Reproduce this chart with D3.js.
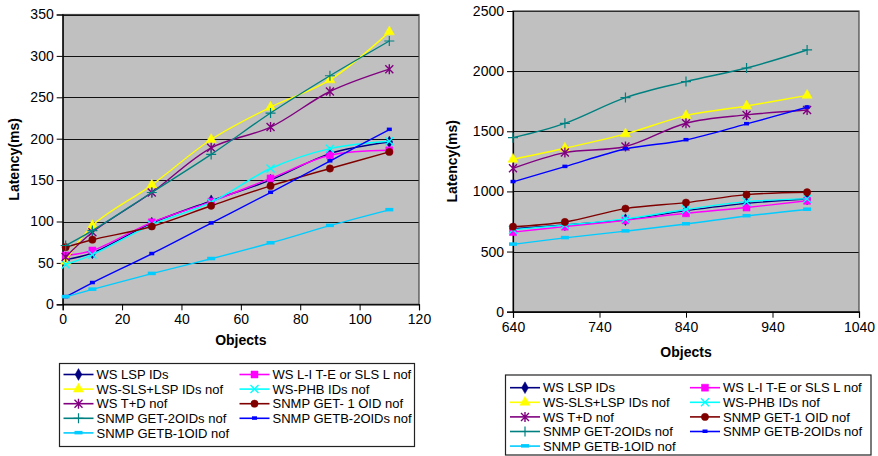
<!DOCTYPE html>
<html><head><meta charset="utf-8">
<script src="https://cdn.jsdelivr.net/npm/d3@7"></script>
<style>
body{margin:0;background:#fff;}
text{font-family:"Liberation Sans",Arial,sans-serif;fill:#000;}
</style></head>
<body><svg id="c" width="878" height="456"></svg>
<script>
// ---------- data ----------
const seriesNames = ["WS LSP IDs","WS L-I T-E or SLS L nof","WS-SLS+LSP IDs nof","WS-PHB IDs nof","WS T+D nof","SNMP GET-1 OID nof","SNMP GET-2OIDs nof","SNMP GETB-2OIDs nof","SNMP GETB-1OID nof"];
const seriesNamesLeft = ["WS LSP IDs","WS L-I T-E or SLS L nof","WS-SLS+LSP IDs nof","WS-PHB IDs nof","WS T+D nof","SNMP GET- 1 OID nof","SNMP GET-2OIDs nof","SNMP GETB-2OIDs nof","SNMP GETB-1OID nof"];
const seriesColors = ["#000080","#FF00FF","#FFFF00","#00FFFF","#800080","#800000","#008080","#0000FF","#00CCFF"];
const seriesMarkers = ["diamond","square","triangle","x","star","circle","plus","dashSmall","dash"];

const objectsLeft = [1,10,30,50,70,90,110];
const leftWsLsp  = [54, 62, 98, 125, 150, 182, 196];
const leftWsLite = [59, 65, 99, 124, 152, 180, 186];
const leftWsSls  = [52, 95, 144, 199, 238, 271, 329];
const leftWsPhb  = [48, 60, 96, 123, 164, 188, 197];
const leftWsTd   = [57, 87, 135, 189, 214, 257, 284];
const leftGet1   = [69, 78, 94, 119, 143, 164, 184];
const leftGet2   = [71, 89, 135, 181, 231, 276, 318];
const leftGetb2  = [9, 26, 61, 98, 135, 173, 211];
const leftGetb1  = [9, 18, 37, 55, 74, 95, 114];

const objectsRight = [640,700,770,840,910,980];
const rightWsLsp  = [690, 722, 765, 840, 901, 937];
const rightWsLite = [662, 707, 760, 818, 866, 922];
const rightWsSls  = [1267, 1359, 1478, 1630, 1710, 1799];
const rightWsPhb  = [682, 720, 772, 850, 915, 938];
const rightWsTd   = [1192, 1323, 1373, 1567, 1636, 1677];
const rightGet1   = [707, 746, 857, 907, 973, 993];
const rightGet2   = [1447, 1566, 1780, 1913, 2026, 2176];
const rightGetb2  = [1080, 1206, 1353, 1428, 1561, 1700];
const rightGetb1  = [560, 614, 670, 729, 796, 850];

const leftXTicks = [0,20,40,60,80,100,120];
const leftYTicks = [0,50,100,150,200,250,300,350];
const rightXTicks = [640,740,840,940,1040];
const rightYTicks = [0,500,1000,1500,2000,2500];

// ---------- drawing ----------
const svg = d3.select("#c");

function markerPath(type){
  switch(type){
    case "diamond": return d3.symbol(d3.symbolDiamond, 40)();
    case "square": return "M-3.5,-3.5H3.5V3.5H-3.5Z";
    case "triangle": return d3.symbol(d3.symbolTriangle, 45)();
    case "circle": return d3.symbol(d3.symbolCircle, 42)();
    default: return null;
  }
}
function drawMarker(g, type, color, x, y){
  const p = markerPath(type);
  if(p){
    g.append("path").attr("d",p).attr("transform",`translate(${x},${y})`)
      .attr("fill",color).attr("stroke",color).attr("stroke-width",0.5);
  } else if(type==="x"){
    g.append("path").attr("d","M-4,-4L4,4M-4,4L4,-4").attr("transform",`translate(${x},${y})`)
      .attr("stroke",color).attr("stroke-width",1.4).attr("fill","none");
  } else if(type==="star"){
    g.append("path").attr("d","M-4,-4L4,4M-4,4L4,-4M0,-5L0,5").attr("transform",`translate(${x},${y})`)
      .attr("stroke",color).attr("stroke-width",1.4).attr("fill","none");
  } else if(type==="plus"){
    g.append("path").attr("d","M-5,0L5,0M0,-5L0,5").attr("transform",`translate(${x},${y})`)
      .attr("stroke",color).attr("stroke-width",1.2).attr("fill","none");
  } else if(type==="dashSmall"){
    g.append("rect").attr("x",x-2.5).attr("y",y-2).attr("width",5).attr("height",3.5).attr("fill",color);
  } else if(type==="dash"){
    g.append("rect").attr("x",x-4).attr("y",y-2).attr("width",8).attr("height",3.5).attr("fill",color);
  }
}

function chart(cfg){
  const g = svg.append("g");
  const x = d3.scaleLinear().domain(cfg.xDomain).range([cfg.x0,cfg.x1]);
  const y = d3.scaleLinear().domain(cfg.yDomain).range([cfg.y0,cfg.y1]);
  g.append("rect").attr("x",cfg.x0).attr("y",cfg.y1).attr("width",cfg.x1-cfg.x0).attr("height",cfg.y0-cfg.y1)
    .attr("fill","#C0C0C0");
  // gridlines
  g.selectAll(".grid").data(cfg.yTicks).enter().append("line")
    .attr("x1",cfg.x0).attr("x2",cfg.x1).attr("y1",d=>Math.round(y(d))+0.5).attr("y2",d=>Math.round(y(d))+0.5)
    .attr("stroke","#111").attr("stroke-width",1);
  g.append("rect").attr("x",cfg.x0).attr("y",cfg.y1).attr("width",cfg.x1-cfg.x0).attr("height",cfg.y0-cfg.y1)
    .attr("fill","none").attr("stroke","#444").attr("stroke-width",1.2);
  // axes
  const ya = d3.axisLeft(y).tickValues(cfg.yTicks).tickSize(6).tickPadding(3).tickFormat(d3.format("d"));
  const yg = g.append("g").attr("transform",`translate(${cfg.x0},0)`).call(ya);
  const xa = d3.axisBottom(x).tickValues(cfg.xTicks).tickSize(6).tickPadding(4).tickFormat(d3.format("d"));
  const xg = g.append("g").attr("transform",`translate(0,${cfg.y0})`).call(xa);
  [yg,xg].forEach(a=>{
    a.select(".domain").attr("stroke","#000").attr("stroke-width",1.2);
    a.selectAll(".tick line").attr("stroke","#000");
    a.selectAll(".tick text").attr("font-size",14).attr("font-family","Liberation Sans, Arial, sans-serif").attr("fill","#000");
  });
  // titles
  g.append("text").attr("x",(cfg.x0+cfg.x1)/2).attr("y",cfg.xTitleY).attr("text-anchor","middle")
    .attr("font-size",14).attr("font-weight","bold").text("Objects");
  g.append("text").attr("transform",`translate(${cfg.yTitleX},${(cfg.y0+cfg.y1)/2}) rotate(-90)`)
    .attr("text-anchor","middle").attr("font-size",14).attr("font-weight","bold").text("Latency(ms)");
  // series
  const line = d3.line().x(d=>x(d[0])).y(d=>y(d[1])).curve(d3.curveCatmullRom.alpha(0.5));
  cfg.series.forEach((vals,i)=>{
    const pts = cfg.xs.map((xv,j)=>[xv,vals[j]]);
    g.append("path").attr("d",line(pts)).attr("fill","none").attr("stroke",seriesColors[i]).attr("stroke-width",1.4);
    pts.forEach(p=>drawMarker(g,seriesMarkers[i],seriesColors[i],x(p[0]),y(p[1])));
  });
  // legend
  const L = cfg.legend;
  g.append("rect").attr("x",L.x).attr("y",L.y).attr("width",L.w).attr("height",L.h)
    .attr("fill","#fff").attr("stroke","#222").attr("stroke-width",1.2);
  const order = [0,2,4,6,8,1,3,5,7];
  order.forEach((si,k)=>{
    const col = k<5?0:1, row = k<5?k:k-5;
    const lx = L.cols[col], ly = L.rowY + row*L.rowH;
    g.append("line").attr("x1",lx).attr("x2",lx+L.lineW).attr("y1",ly).attr("y2",ly)
      .attr("stroke",seriesColors[si]).attr("stroke-width",1.6);
    drawMarker(g,seriesMarkers[si],seriesColors[si],lx+L.lineW/2,ly);
    g.append("text").attr("x",lx+L.lineW+3).attr("y",ly).attr("dy","0.36em")
      .attr("font-size",13).text(cfg.names[si]);
  });
}

chart({
  xDomain:[0,120], yDomain:[0,350], x0:62.7, x1:419, y0:304.3, y1:14.5,
  xTicks:leftXTicks, yTicks:leftYTicks, xs:objectsLeft,
  series:[leftWsLsp,leftWsLite,leftWsSls,leftWsPhb,leftWsTd,leftGet1,leftGet2,leftGetb2,leftGetb1],
  names:seriesNamesLeft, xTitleY:345, yTitleX:19,
  legend:{x:59.5,y:363.5,w:355,h:83,cols:[63.5,239.5],lineW:30,rowY:374.5,rowH:14.6}
});
chart({
  xDomain:[640,1040], yDomain:[0,2500], x0:513, x1:859, y0:311.7, y1:11,
  xTicks:rightXTicks, yTicks:rightYTicks, xs:objectsRight,
  series:[rightWsLsp,rightWsLite,rightWsSls,rightWsPhb,rightWsTd,rightGet1,rightGet2,rightGetb2,rightGetb1],
  names:seriesNames, xTitleY:357, yTitleX:457,
  legend:{x:505.5,y:375,w:365.5,h:80,cols:[510,690],lineW:30,rowY:387.7,rowH:14.6}
});
</script></body></html>
